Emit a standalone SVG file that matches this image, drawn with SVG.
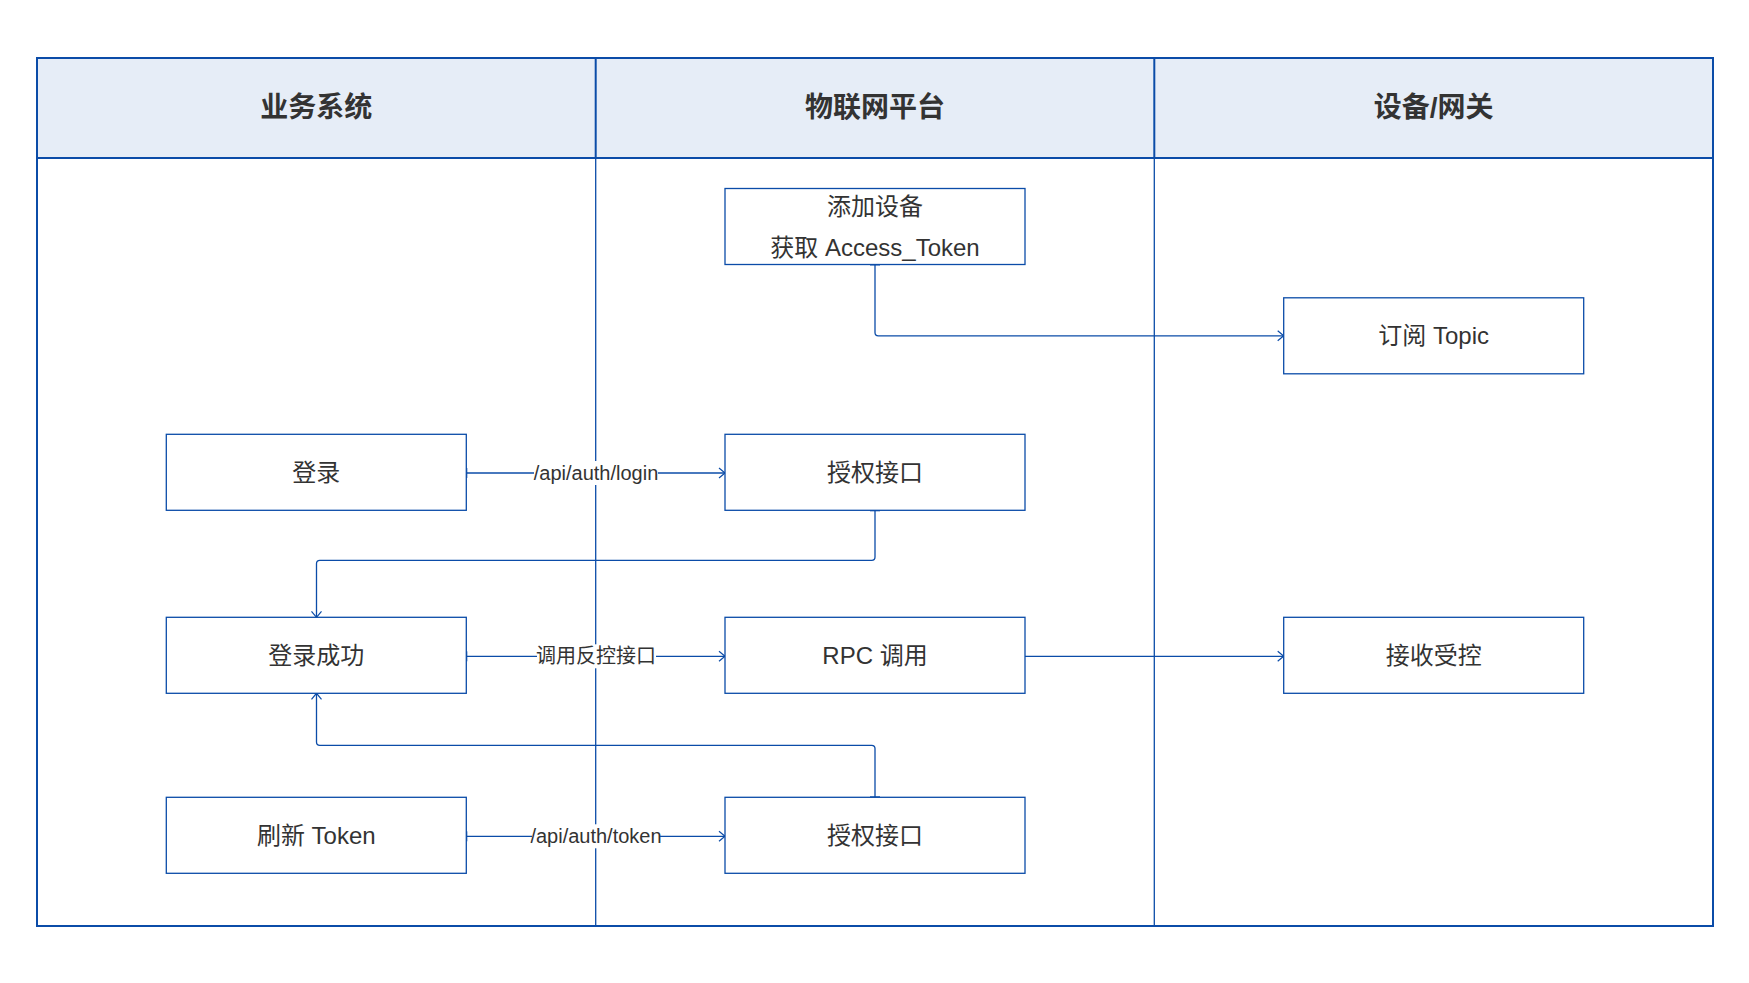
<svg xmlns="http://www.w3.org/2000/svg" width="1749" height="983" viewBox="0 0 1749 983">
<style>
.lane{fill:none;stroke:#0b4ca8;stroke-width:2}
.hdr{fill:#e6edf7;stroke:#0b4ca8;stroke-width:2}
.div{stroke:#0b4ca8;stroke-width:1.3}
.htxt{font-family:"Liberation Sans","Noto Sans CJK SC",sans-serif;font-size:28px;font-weight:bold;fill:#333;text-anchor:middle;dominant-baseline:central}
.box{fill:#fff;stroke:#0b4ca8;stroke-width:1.3}
.ntxt{font-family:"Liberation Sans","Noto Sans CJK SC",sans-serif;font-size:24px;fill:#333;text-anchor:middle;dominant-baseline:central}
.edge{fill:none;stroke:#0b4ca8;stroke-width:1.3;marker-start:url(#tick);marker-end:url(#arr)}
.lbg{fill:#fff}
.ltxt{font-family:"Liberation Sans","Noto Sans CJK SC",sans-serif;font-size:20px;fill:#333;text-anchor:middle;dominant-baseline:central}
</style>
<defs>
<marker id="arr" markerUnits="userSpaceOnUse" viewBox="-8 -6 10 12" refX="0" refY="0" markerWidth="10" markerHeight="12" orient="auto">
<path d="M-6,-5 L0,0 L-6,5" fill="none" stroke="#0b4ca8" stroke-width="1.2"/>
</marker>
<marker id="tick" markerUnits="userSpaceOnUse" viewBox="-3 -6 6 12" refX="0" refY="0" markerWidth="6" markerHeight="12" orient="auto">
<path d="M0,-5 L0,5" fill="none" stroke="#0b4ca8" stroke-width="2"/>
</marker>
</defs>
<rect width="1749" height="983" fill="#fff"/>
<g id="lanes">
<rect class="hdr" x="37" y="58" width="1676" height="100"/>
<line class="div" x1="595.7" y1="158" x2="595.7" y2="926"/>
<line class="div" x1="1154.3" y1="158" x2="1154.3" y2="926"/>
<line class="lane" x1="595.7" y1="58" x2="595.7" y2="158"/>
<line class="lane" x1="1154.3" y1="58" x2="1154.3" y2="158"/>
<rect class="lane" x="37" y="58" width="1676" height="868"/>
<text class="htxt" x="316.3" y="107">业务系统</text>
<text class="htxt" x="875" y="107">物联网平台</text>
<text class="htxt" x="1433.7" y="107">设备/网关</text>
</g>
<g id="connectors">
<path class="edge" d="M875,264.5 L875,332.5 Q875,335.8 878.3,335.8 L1283.7,335.8"/>
<path class="edge" d="M466.3,473 L725,473"/>
<path class="edge" d="M875,510.3 L875,557 Q875,560.3 871.7,560.3 L319.8,560.3 Q316.5,560.3 316.5,563.6 L316.5,617.3"/>
<path class="edge" d="M466.3,656.3 L725,656.3"/>
<path class="edge" d="M1024,656.3 L1283.7,656.3"/>
<path class="edge" d="M875,797.3 L875,748.6 Q875,745.3 871.7,745.3 L319.8,745.3 Q316.5,745.3 316.5,742 L316.5,693.3"/>
<path class="edge" d="M466.3,836.3 L725,836.3"/>
<rect class="lbg" x="534" y="461" width="124" height="24"/>
<text class="ltxt" x="596" y="473">/api/auth/login</text>
<rect class="lbg" x="537" y="644.3" width="119" height="24"/>
<text class="ltxt" x="596" y="656.3">调用反控接口</text>
<rect class="lbg" x="532" y="824.3" width="128" height="24"/>
<text class="ltxt" x="596" y="836.3">/api/auth/token</text>
</g>
<g id="n-add">
<rect class="box" x="725" y="188.5" width="300" height="76"/>
<text class="ntxt" x="875" y="206.5">添加设备</text>
<text class="ntxt" x="875" y="247">获取 Access_Token</text>
</g>
<g id="n-topic">
<rect class="box" x="1283.7" y="297.8" width="300" height="76"/>
<text class="ntxt" x="1433.7" y="335.8">订阅 Topic</text>
</g>
<g id="n-login">
<rect class="box" x="166.3" y="434.3" width="300" height="76"/>
<text class="ntxt" x="316.3" y="472.3">登录</text>
</g>
<g id="n-auth1">
<rect class="box" x="725" y="434.3" width="300" height="76"/>
<text class="ntxt" x="875" y="472.3">授权接口</text>
</g>
<g id="n-ok">
<rect class="box" x="166.3" y="617.3" width="300" height="76"/>
<text class="ntxt" x="316.3" y="655.3">登录成功</text>
</g>
<g id="n-rpc">
<rect class="box" x="725" y="617.3" width="300" height="76"/>
<text class="ntxt" x="875" y="655.3">RPC 调用</text>
</g>
<g id="n-recv">
<rect class="box" x="1283.7" y="617.3" width="300" height="76"/>
<text class="ntxt" x="1433.7" y="655.3">接收受控</text>
</g>
<g id="n-refresh">
<rect class="box" x="166.3" y="797.3" width="300" height="76"/>
<text class="ntxt" x="316.3" y="835.3">刷新 Token</text>
</g>
<g id="n-auth2">
<rect class="box" x="725" y="797.3" width="300" height="76"/>
<text class="ntxt" x="875" y="835.3">授权接口</text>
</g>
</svg>
